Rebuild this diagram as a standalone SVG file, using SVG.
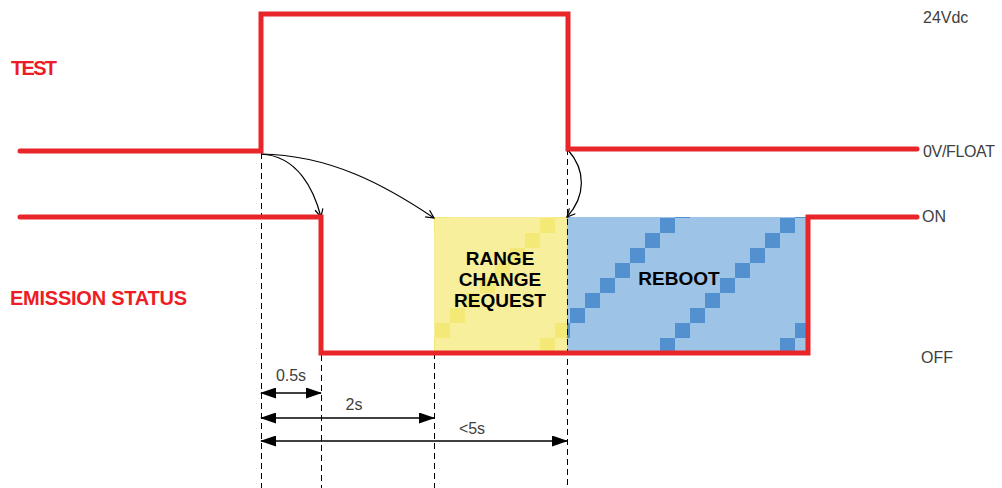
<svg xmlns="http://www.w3.org/2000/svg" width="1002" height="488" viewBox="0 0 1002 488">
<style>
.sig{fill:none;stroke:#e8262a;stroke-width:5;stroke-linejoin:miter;stroke-linecap:round}
.dash{fill:none;stroke:#000;stroke-width:1;stroke-dasharray:6 4}
.curve{fill:none;stroke:#000;stroke-width:1.2}
.dim{fill:none;stroke:#000;stroke-width:1.5}
.lbl{font-family:"Liberation Sans",Arial,sans-serif;font-size:16px;fill:#404040}
.title{font-family:"Liberation Sans",Arial,sans-serif;font-size:20px;font-weight:bold;fill:#ee1c24}
.box{font-family:"Liberation Sans",Arial,sans-serif;font-size:19px;font-weight:bold;fill:#000;text-anchor:middle}
</style>
<defs>
<pattern id="py" patternUnits="userSpaceOnUse" x="555" y="218" width="120" height="120">
<rect width="120" height="120" fill="#f7ef9b"/>
<g fill="#f4e977">
<rect x="105" y="0" width="15" height="15"/><rect x="90" y="15" width="15" height="15"/>
<rect x="75" y="30" width="15" height="15"/><rect x="60" y="45" width="15" height="15"/>
<rect x="45" y="60" width="15" height="15"/><rect x="30" y="75" width="15" height="15"/>
<rect x="15" y="90" width="15" height="15"/><rect x="0" y="105" width="15" height="15"/>
</g>
</pattern>
<pattern id="pb" patternUnits="userSpaceOnUse" x="555" y="218" width="120" height="120">
<rect width="120" height="120" fill="#9dc3e6"/>
<g fill="#5390d0">
<rect x="105" y="0" width="15" height="15"/><rect x="90" y="15" width="15" height="15"/>
<rect x="75" y="30" width="15" height="15"/><rect x="60" y="45" width="15" height="15"/>
<rect x="45" y="60" width="15" height="15"/><rect x="30" y="75" width="15" height="15"/>
<rect x="15" y="90" width="15" height="15"/><rect x="0" y="105" width="15" height="15"/>
</g>
</pattern>
<marker id="open" markerWidth="10" markerHeight="10" refX="9" refY="5" orient="auto" markerUnits="userSpaceOnUse">
<path d="M1,1 L9,5 L1,9" fill="none" stroke="#000" stroke-width="1.2"/>
</marker>
<marker id="tri" markerWidth="16" markerHeight="11" refX="15" refY="5.5" orient="auto-start-reverse" markerUnits="userSpaceOnUse">
<path d="M0,0 L16,5.5 L0,11 Z" fill="#000"/>
</marker>
</defs>

<g id="range-change-request">
<rect x="434" y="217" width="133" height="136" fill="url(#py)"/>
<text class="box" x="500" y="265">RANGE</text>
<text class="box" x="500" y="286">CHANGE</text>
<text class="box" x="500" y="307">REQUEST</text>
</g>
<g id="reboot">
<rect x="567" y="217" width="241" height="136" fill="url(#pb)"/>
<text class="box" x="679" y="285">REBOOT</text>
</g>

<g id="connectors">
<line class="dash" x1="261.5" y1="153" x2="261.5" y2="488"/>
<line class="dash" x1="321.5" y1="355" x2="321.5" y2="488"/>
<line class="dash" x1="434.5" y1="353" x2="434.5" y2="488"/>
<line class="dash" x1="567.5" y1="149" x2="567.5" y2="488"/>
<path class="curve" d="M261,154 C298,156 314,190 321,217" marker-end="url(#open)"/>
<path class="curve" d="M261,154 C330,155 385,185 434,218" marker-end="url(#open)"/>
<path class="curve" d="M568,150 C586,170 586,196 567,217" marker-end="url(#open)"/>
<line class="dim" x1="261" y1="393" x2="321" y2="393" marker-start="url(#tri)" marker-end="url(#tri)"/>
<line class="dim" x1="261" y1="418" x2="434" y2="418" marker-start="url(#tri)" marker-end="url(#tri)"/>
<line class="dim" x1="261" y1="441" x2="567" y2="441" marker-start="url(#tri)" marker-end="url(#tri)"/>
</g>

<g id="test-signal">
<path class="sig" d="M20,151 H261 V14 H568 V149 H917"/>
<text class="title" x="11" y="75" textLength="46">TEST</text>
</g>
<g id="emission-signal">
<path class="sig" d="M20,217 H321 V353 H808 V217 H917"/>
<text class="title" x="10" y="305" textLength="177">EMISSION STATUS</text>
</g>

<g id="labels">
<text class="lbl" x="923" y="23">24Vdc</text>
<text class="lbl" x="923" y="157" textLength="72">0V/FLOAT</text>
<text class="lbl" x="922" y="222">ON</text>
<text class="lbl" x="921" y="363">OFF</text>
<text class="lbl" x="291" y="381" text-anchor="middle">0.5s</text>
<text class="lbl" x="354" y="410" text-anchor="middle">2s</text>
<text class="lbl" x="472" y="434" text-anchor="middle">&lt;5s</text>
</g>
</svg>
